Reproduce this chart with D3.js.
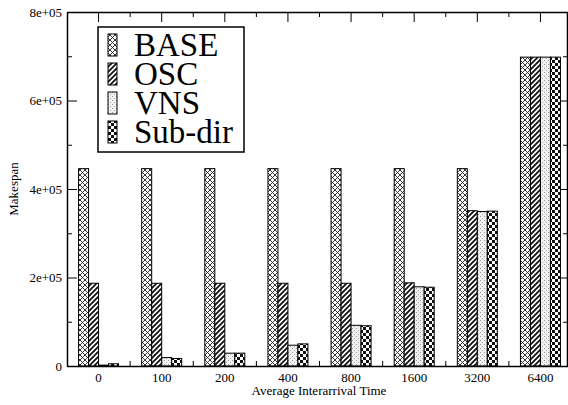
<!DOCTYPE html>
<html>
<head>
<meta charset="utf-8">
<script src="https://cdn.jsdelivr.net/npm/d3@7"></script>
<style>
  body { margin: 0; background: #fff; }
  svg { display: block; }
  svg text { font-family: "Liberation Serif", "Times New Roman", serif !important; }
</style>
</head>
<body>
<svg id="chart" width="568" height="405"></svg>
<script>
const categories = ["0", "100", "200", "400", "800", "1600", "3200", "6400"];
const seriesNames = ["BASE", "OSC", "VNS", "Sub-dir"];
const baseValues   = [446000, 446000, 446000, 446000, 446000, 446000, 446000, 698000];
const oscValues    = [187000, 187000, 187000, 187000, 187000, 188000, 351000, 698000];
const vnsValues    = [2000, 19000, 29000, 47000, 92000, 179000, 349000, 698000];
const subdirValues = [5000, 17000, 29000, 50000, 91000, 178000, 350000, 698000];
const yTicks = [0, 200000, 400000, 600000, 800000];
const yTickLabels = ["0", "2e+05", "4e+05", "6e+05", "8e+05"];
const yMinorTicks = [100000, 300000, 500000, 700000];

const seriesValues = [baseValues, oscValues, vnsValues, subdirValues];
const patternIds = ["pBase", "pOsc", "pVns", "pSub"];

const svg = d3.select("#chart");
const mLeft = 67, mRight = 572, mTop = 12, mBottom = 366;

const defs = svg.append("defs");
// BASE: crosshatch
const p1 = defs.append("pattern").attr("id", "pBase").attr("patternUnits", "userSpaceOnUse")
  .attr("width", 5).attr("height", 5);
p1.append("rect").attr("width", 5).attr("height", 5).attr("fill", "#fff");
p1.append("path").attr("d", "M0,0L5,5M5,0L0,5").attr("stroke", "#222").attr("stroke-width", 0.9);
// OSC: diagonal stripes
const p2 = defs.append("pattern").attr("id", "pOsc").attr("patternUnits", "userSpaceOnUse")
  .attr("width", 5).attr("height", 5);
p2.append("rect").attr("width", 5).attr("height", 5).attr("fill", "#fff");
p2.append("path").attr("d", "M-1,6L6,-1M-1,1L1,-1M4,6L6,4").attr("stroke", "#111").attr("stroke-width", 1.8);
// VNS: light stipple
const p3 = defs.append("pattern").attr("id", "pVns").attr("patternUnits", "userSpaceOnUse")
  .attr("width", 4).attr("height", 4);
p3.append("rect").attr("width", 4).attr("height", 4).attr("fill", "#f0f0f0");
p3.append("rect").attr("x", 0).attr("y", 0).attr("width", 1).attr("height", 1).attr("fill", "#999");
p3.append("rect").attr("x", 2).attr("y", 2).attr("width", 1).attr("height", 1).attr("fill", "#aaa");
// Sub-dir: checkerboard
const p4 = defs.append("pattern").attr("id", "pSub").attr("patternUnits", "userSpaceOnUse")
  .attr("width", 6).attr("height", 6);
p4.append("rect").attr("width", 6).attr("height", 6).attr("fill", "#fff");
p4.append("rect").attr("x", 0).attr("y", 0).attr("width", 3).attr("height", 3).attr("fill", "#111");
p4.append("rect").attr("x", 3).attr("y", 3).attr("width", 3).attr("height", 3).attr("fill", "#111");

const x = d3.scaleBand().domain(categories).range([mLeft, mRight]).padding(0);
const y = d3.scaleLinear().domain([0, 800000]).range([mBottom, mTop]);
const barW = 10;
const xs = d3.scaleBand().domain(seriesNames).range([0, barW * 4]);

// bars
seriesNames.forEach((s, si) => {
  svg.append("g").selectAll("rect").data(categories).join("rect")
    .attr("x", (c) => x(c) + x.bandwidth() / 2 - 2 * barW + xs(s))
    .attr("y", (c, i) => y(seriesValues[si][i]))
    .attr("width", barW)
    .attr("height", (c, i) => mBottom - y(seriesValues[si][i]))
    .attr("fill", `url(#${patternIds[si]})`)
    .attr("stroke", "#000").attr("stroke-width", 1);
});

// axes
const axisColor = "#000";
const boundaries = categories.slice(1).map(c => x(c));
// left axis
const gL = svg.append("g").attr("transform", `translate(${mLeft},0)`);
gL.call(d3.axisLeft(y).tickValues(yTicks).tickFormat((d, i) => yTickLabels[i]).tickSizeInner(-10).tickSizeOuter(0).tickPadding(5));
gL.selectAll(".tick text").attr("x", -5);
gL.append("g").call(d3.axisLeft(y).tickValues(yMinorTicks).tickFormat("").tickSizeInner(-5).tickSizeOuter(0)).select(".domain").remove();
// right axis
const gR = svg.append("g").attr("transform", `translate(${mRight - 5},0)`);
gR.call(d3.axisRight(y).tickValues(yTicks).tickFormat("").tickSizeInner(-7).tickSizeOuter(0));
gR.append("g").call(d3.axisRight(y).tickValues(yMinorTicks).tickFormat("").tickSizeInner(-4).tickSizeOuter(0)).select(".domain").remove();
// bottom axis
const gB = svg.append("g").attr("transform", `translate(0,${mBottom})`);
gB.call(d3.axisBottom(x).tickSizeInner(0).tickSizeOuter(0).tickPadding(7));
gB.append("g").selectAll("line").data(boundaries).join("line")
  .attr("x1", d => d).attr("x2", d => d).attr("y1", 0).attr("y2", -5).attr("stroke", axisColor);
// top axis
const gT = svg.append("g").attr("transform", `translate(0,${mTop})`);
gT.call(d3.axisTop(x).tickSizeInner(-10).tickSizeOuter(0).tickFormat(""));
gT.append("g").selectAll("line").data(boundaries).join("line")
  .attr("x1", d => d).attr("x2", d => d).attr("y1", 0).attr("y2", 5).attr("stroke", axisColor);

svg.selectAll(".domain").attr("stroke", axisColor).attr("stroke-width", 1.5);
svg.selectAll(".tick line").attr("stroke-width", 1);
svg.selectAll(".tick text").attr("font-size", 13).attr("fill", "#000");

// axis titles
svg.append("text").attr("x", (mLeft + 567) / 2 + 2).attr("y", 395).attr("text-anchor", "middle")
  .attr("font-size", 13).text("Average Interarrival Time");
svg.append("text").attr("transform", `translate(18,${(mTop + mBottom) / 2}) rotate(-90)`)
  .attr("text-anchor", "middle").attr("font-size", 13).text("Makespan");

// legend
const lg = svg.append("g");
lg.append("rect").attr("x", 98).attr("y", 27).attr("width", 146).attr("height", 125)
  .attr("fill", "#fff").attr("stroke", "#000").attr("stroke-width", 1.5);
const legendY = d3.scalePoint().domain(seriesNames).range([56, 143]);
seriesNames.forEach((s, si) => {
  lg.append("rect").attr("x", 108).attr("y", legendY(s) - 22).attr("width", 9).attr("height", 22)
    .attr("fill", `url(#${patternIds[si]})`).attr("stroke", "#000").attr("stroke-width", 1);
  lg.append("text").attr("x", 134).attr("y", legendY(s)).attr("font-size", 33).text(s);
});
</script>
</body>
</html>
